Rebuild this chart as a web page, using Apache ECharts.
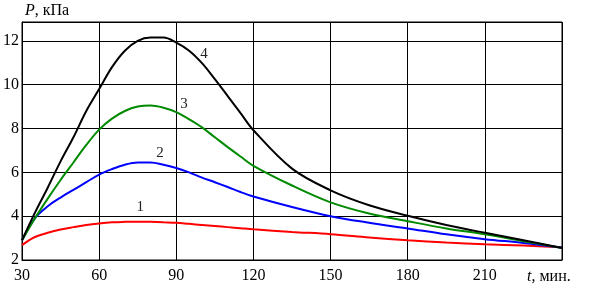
<!DOCTYPE html>
<html>
<head>
<meta charset="utf-8">
<script src="https://cdn.jsdelivr.net/npm/echarts@6/dist/echarts.min.js"></script>
<style>
  html, body { margin: 0; padding: 0; background: #fff; }
  #main { width: 592px; height: 294px; }
</style>
</head>
<body>
<div id="main"></div>
<script>
// time, min
var t = [30, 35, 40, 45, 50, 55, 60, 65, 70, 75, 80, 85, 90, 95, 100, 105, 110, 115, 120, 135, 150, 165, 180, 195, 210, 225, 240]
// pressure, kPa
var p1 = [2.68, 3.05, 3.24, 3.39, 3.5, 3.6, 3.67, 3.72, 3.74, 3.75, 3.74, 3.72, 3.7, 3.65, 3.6, 3.55, 3.5, 3.45, 3.4, 3.28, 3.18, 3.03, 2.9, 2.8, 2.72, 2.66, 2.58]
var p2 = [2.9, 3.9, 4.45, 4.85, 5.2, 5.55, 5.9, 6.15, 6.35, 6.45, 6.45, 6.35, 6.2, 6.0, 5.76, 5.55, 5.33, 5.1, 4.9, 4.42, 4.0, 3.7, 3.44, 3.17, 2.95, 2.78, 2.57]
var p3 = [2.9, 3.9, 4.8, 5.65, 6.45, 7.25, 7.95, 8.45, 8.8, 9.0, 9.05, 8.95, 8.75, 8.42, 8.05, 7.6, 7.15, 6.72, 6.3, 5.4, 4.63, 4.12, 3.77, 3.44, 3.17, 2.86, 2.55]
var p4 = [2.9, 4.15, 5.3, 6.5, 7.6, 8.8, 9.8, 10.8, 11.55, 12.0, 12.15, 12.15, 11.92, 11.55, 10.98, 10.25, 9.48, 8.7, 7.92, 6.17, 5.18, 4.5, 4.02, 3.6, 3.24, 2.9, 2.55]
// curve number positions [t, P]
var labelPos = [[76, 4.4], [83.7, 6.9], [93, 9.1], [100.8, 11.4]]
var colors = ['#ff0000', '#0000ff', '#008a00', '#000000']

var font = 'Liberation Serif'
var chart = echarts.init(document.getElementById('main'))

function pairs(ys) {
  return t.map(function (x, i) { return [x, ys[i]] })
}

var series = [p1, p2, p3, p4].map(function (ys, i) {
  return {
    name: String(i + 1),
    type: 'line',
    data: pairs(ys),
    smooth: 0.35,
    showSymbol: false,
    lineStyle: { color: colors[i], width: 2 },
    markPoint: {
      symbol: 'circle',
      symbolSize: 0,
      silent: true,
      label: {
        show: true,
        position: 'inside',
        formatter: String(i + 1),
        color: '#222',
        fontFamily: font,
        fontSize: 15
      },
      data: [{ coord: labelPos[i] }]
    }
  }
})

chart.setOption({
  animation: false,
  grid: {
    left: 22,
    right: 30,
    top: 22,
    bottom: 34,
    show: true,
    borderColor: '#000',
    borderWidth: 1
  },
  xAxis: {
    type: 'value',
    min: 30,
    max: 240,
    interval: 30,
    name: '{i|t}, мин.',
    nameLocation: 'end',
    nameGap: -35,
    nameTextStyle: {
      fontFamily: font,
      fontSize: 16,
      color: '#000',
      verticalAlign: 'top',
      padding: [9, 0, 0, 0],
      rich: {
        i: { fontFamily: font, fontSize: 16, fontStyle: 'italic', color: '#000' }
      }
    },
    axisLine: { lineStyle: { color: '#000', width: 1 } },
    axisTick: { show: false },
    axisLabel: {
      showMaxLabel: false,
      margin: 8,
      fontFamily: font,
      fontSize: 16,
      color: '#000'
    },
    splitLine: { show: true, lineStyle: { color: '#000', width: 1 } }
  },
  yAxis: {
    type: 'value',
    min: 2,
    max: 12.86,
    interval: 2,
    name: '{i|P}, кПа',
    nameLocation: 'end',
    nameGap: 3,
    nameTextStyle: {
      fontFamily: font,
      fontSize: 16,
      color: '#000',
      align: 'left',
      padding: [0, 0, 0, 3],
      rich: {
        i: { fontFamily: font, fontSize: 16, fontStyle: 'italic', color: '#000' }
      }
    },
    axisLine: { lineStyle: { color: '#000', width: 1 } },
    axisTick: { show: false },
    axisLabel: {
      showMaxLabel: false,
      margin: 3,
      fontFamily: font,
      fontSize: 16,
      color: '#000'
    },
    splitLine: { show: true, lineStyle: { color: '#000', width: 1 } }
  },
  series: series
})
</script>
</body>
</html>
